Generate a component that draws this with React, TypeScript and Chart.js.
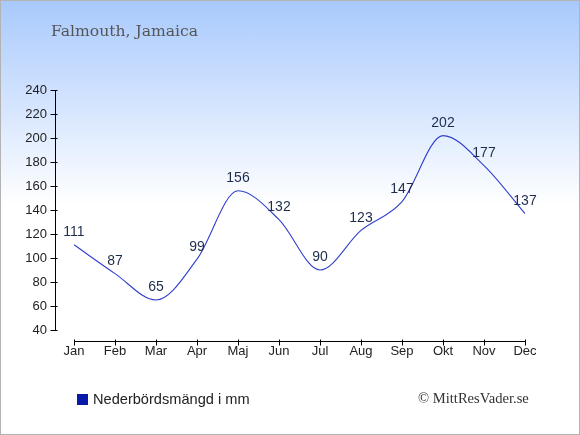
import React, { useEffect, useRef } from "react";
import { Chart, registerables } from "chart.js";

Chart.register(...registerables);

const months = ["Jan", "Feb", "Mar", "Apr", "Maj", "Jun", "Jul", "Aug", "Sep", "Okt", "Nov", "Dec"];
const rainfall = [111, 87, 65, 99, 156, 132, 90, 123, 147, 202, 177, 137];
const yMin = 40;
const yMax = 240;
const yStep = 20;
const titleText = "Falmouth, Jamaica";
const legendText = "Nederbördsmängd i mm";
const creditText = "© MittResVader.se";

const W = 580;
const H = 435;

const axesPlugin = {
  id: "customAxes",
  afterDraw(chart: any) {
    const { ctx, chartArea, scales } = chart;
    const xs = scales.x;
    const ys = scales.y;
    ctx.save();
    ctx.strokeStyle = "#000";
    ctx.lineWidth = 1;
    const ax = Math.round(chartArea.left - 19) + 0.5;
    const yTop = Math.round(ys.getPixelForValue(yMax));
    const yBot = Math.round(ys.getPixelForValue(yMin));
    ctx.beginPath();
    ctx.moveTo(ax, yTop);
    ctx.lineTo(ax, yBot + 1);
    for (let v = yMin; v <= yMax; v += yStep) {
      const py = Math.round(ys.getPixelForValue(v)) + 0.5;
      ctx.moveTo(ax - 5, py);
      ctx.lineTo(ax + 2, py);
    }
    ctx.stroke();
    const ay = Math.round(chartArea.bottom + 11) + 0.5;
    const x0 = Math.round(xs.getPixelForValue(0));
    const x1 = Math.round(xs.getPixelForValue(months.length - 1));
    ctx.beginPath();
    ctx.moveTo(x0, ay);
    ctx.lineTo(x1 + 1, ay);
    for (let i = 0; i < months.length; i++) {
      const px = Math.round(xs.getPixelForValue(i)) + 0.5;
      ctx.moveTo(px, ay - 2);
      ctx.lineTo(px, ay + 4);
    }
    ctx.stroke();
    ctx.restore();
  },
};

const labelPlugin = {
  id: "valueLabels",
  afterDatasetsDraw(chart: any) {
    const { ctx } = chart;
    const meta = chart.getDatasetMeta(0);
    const data = chart.data.datasets[0].data;
    ctx.save();
    ctx.font = "14px 'Liberation Sans', Arial, sans-serif";
    ctx.fillStyle = "#1f2d4d";
    ctx.textAlign = "center";
    ctx.textBaseline = "middle";
    meta.data.forEach((pt: any, i: number) => {
      ctx.fillText(String(data[i]), pt.x, pt.y - 12.5);
    });
    ctx.restore();
  },
};

export default function App() {
  const ref = useRef<HTMLCanvasElement | null>(null);

  useEffect(() => {
    document.body.style.margin = "0";
    const canvas = ref.current;
    if (!canvas) return;
    const chart = new Chart(canvas, {
      type: "line",
      data: {
        labels: months,
        datasets: [
          {
            label: legendText,
            data: rainfall,
            borderColor: "#2f3fcc",
            borderWidth: 1.1,
            pointRadius: 0,
            fill: false,
            cubicInterpolationMode: "monotone",
          },
        ],
      },
      options: {
        responsive: false,
        animation: false,
        devicePixelRatio: 1,
        layout: { padding: { top: 90, right: 55, left: 0, bottom: 0 } },
        plugins: {
          legend: { display: false },
          tooltip: { enabled: false },
          title: { display: false },
        },
        scales: {
          x: {
            type: "category",
            offset: false,
            grid: { display: false, drawTicks: false },
            border: { display: false },
            ticks: {
              padding: 14,
              color: "#222",
              font: { family: "'Liberation Sans', Arial, sans-serif", size: 13 },
              maxRotation: 0,
              autoSkip: false,
            },
            afterFit: (s: any) => {
              s.height = H - 330;
            },
          },
          y: {
            min: yMin,
            max: yMax,
            grid: { display: false, drawTicks: false },
            border: { display: false },
            ticks: {
              stepSize: yStep,
              padding: 27,
              color: "#222",
              font: { family: "'Liberation Sans', Arial, sans-serif", size: 13 },
            },
            afterFit: (s: any) => {
              s.width = 74;
            },
          },
        },
      },
      plugins: [axesPlugin, labelPlugin],
    });
    return () => chart.destroy();
  }, []);

  return (
    <div
      style={{
        position: "absolute",
        left: 0,
        top: 0,
        width: W,
        height: H,
        background: "linear-gradient(to bottom, #a8c9fd 0px, #ffffff 205px, #ffffff 435px)",
        overflow: "hidden",
      }}
    >
      <canvas ref={ref} width={W} height={H} style={{ position: "absolute", left: 0, top: 0, width: W, height: H }} />
      <div
        style={{
          position: "absolute",
          left: 51,
          top: 21,
          fontFamily: "'DejaVu Serif', serif",
          fontSize: 15.6,
          color: "#555",
          whiteSpace: "nowrap",
          lineHeight: "20px",
        }}
      >
        {titleText}
      </div>
      <div style={{ position: "absolute", left: 77, top: 394, width: 11, height: 11, background: "#0a1aa8" }} />
      <div
        style={{
          position: "absolute",
          left: 93,
          top: 390,
          fontFamily: "'Liberation Sans', Arial, sans-serif",
          fontSize: 14.6,
          color: "#222",
          whiteSpace: "nowrap",
          lineHeight: "18px",
        }}
      >
        {legendText}
      </div>
      <div
        style={{
          position: "absolute",
          left: 418,
          top: 389,
          fontFamily: "'Liberation Serif', serif",
          fontSize: 14.6,
          color: "#333",
          whiteSpace: "nowrap",
          lineHeight: "18px",
        }}
      >
        {creditText}
      </div>
      <div
        style={{
          position: "absolute",
          left: 0,
          top: 0,
          width: W,
          height: H,
          boxSizing: "border-box",
          border: "1px solid #b3b3b3",
          pointerEvents: "none",
        }}
      />
    </div>
  );
}
